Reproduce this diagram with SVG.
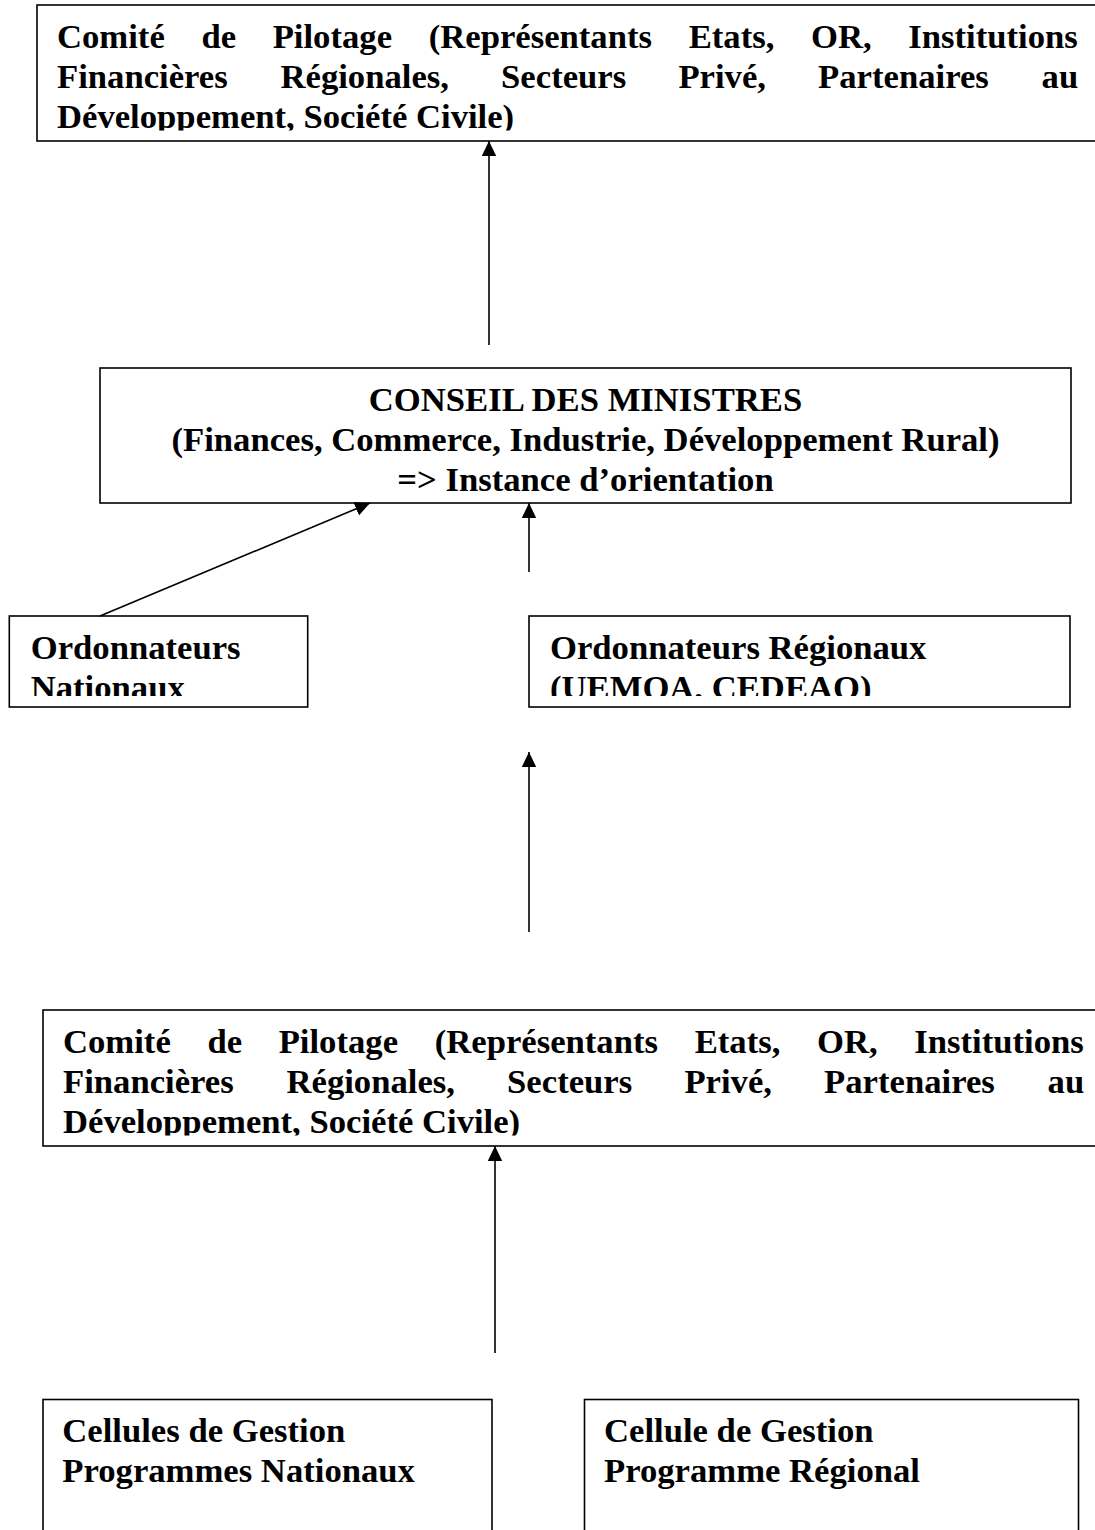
<svg xmlns="http://www.w3.org/2000/svg" width="1095" height="1530" viewBox="0 0 1095 1530">
  <style>
    .box { fill: #ffffff; stroke: #000000; stroke-width: 1.6; }
    .t { font-family: "Liberation Serif", "Times New Roman", serif; font-weight: bold; font-size: 34.67px; fill: #000000; }
    .c { text-anchor: middle; }
    .conn { stroke: #000000; stroke-width: 1.6; fill: none; marker-end: url(#arrow); }
  </style>
  <defs>
    <marker id="arrow" markerUnits="userSpaceOnUse" markerWidth="16" markerHeight="15" refX="15" refY="7.2" orient="auto" viewBox="0 0 16 15">
      <path d="M0,0 L15,7.2 L0,14.4 z" fill="#000000"/>
    </marker>
    <clipPath id="clip-comite1"><rect x="37" y="5" width="1070" height="125.5"/></clipPath>
    <clipPath id="clip-comite2"><rect x="43" y="1010" width="1070" height="125.5"/></clipPath>
    <clipPath id="clip-ordnat"><rect x="9" y="616" width="299" height="80"/></clipPath>
    <clipPath id="clip-ordreg"><rect x="529" y="616" width="541" height="80"/></clipPath>
  </defs>
  <rect x="0" y="0" width="1095" height="1530" fill="#ffffff"/>

  <g id="comite-pilotage-1">
    <rect class="box" x="37" y="5" width="1070" height="136"/>
    <text class="t" clip-path="url(#clip-comite1)">
      <tspan x="57" y="47.7">Comité</tspan><tspan x="201.4" y="47.7">de</tspan><tspan x="272.7" y="47.7">Pilotage</tspan><tspan x="428.7" y="47.7">(Représentants</tspan><tspan x="688.7" y="47.7">Etats,</tspan><tspan x="811" y="47.7">OR,</tspan><tspan x="908.3" y="47.7">Institutions</tspan>
      <tspan x="57" y="87.7">Financières</tspan><tspan x="280.5" y="87.7">Régionales,</tspan><tspan x="501.1" y="87.7">Secteurs</tspan><tspan x="678.4" y="87.7">Privé,</tspan><tspan x="818.1" y="87.7">Partenaires</tspan><tspan x="1041.6" y="87.7">au</tspan>
      <tspan x="57" y="127.7">Développement, Société Civile)</tspan>
    </text>
  </g>

  <g id="conseil-des-ministres">
    <rect class="box" x="100" y="368" width="971" height="135"/>
    <text class="t c" x="585.5" y="411">CONSEIL DES MINISTRES</text>
    <text class="t c" x="585.5" y="451">(Finances, Commerce, Industrie, Développement Rural)</text>
    <text class="t c" x="585.5" y="491">=&gt; Instance d’orientation</text>
  </g>

  <g id="ordonnateurs-nationaux">
    <rect class="box" x="9.3" y="616" width="298.4" height="91"/>
    <text class="t" clip-path="url(#clip-ordnat)">
      <tspan x="30.7" y="659">Ordonnateurs</tspan>
      <tspan x="30.7" y="699">Nationaux</tspan>
    </text>
  </g>

  <g id="ordonnateurs-regionaux">
    <rect class="box" x="529" y="616" width="541" height="91"/>
    <text class="t" clip-path="url(#clip-ordreg)">
      <tspan x="550" y="659">Ordonnateurs Régionaux</tspan>
      <tspan x="550" y="699">(UEMOA, CEDEAO)</tspan>
    </text>
  </g>

  <g id="comite-pilotage-2">
    <rect class="box" x="43" y="1010" width="1070" height="136"/>
    <text class="t" clip-path="url(#clip-comite2)">
      <tspan x="63" y="1052.7">Comité</tspan><tspan x="207.4" y="1052.7">de</tspan><tspan x="278.7" y="1052.7">Pilotage</tspan><tspan x="434.7" y="1052.7">(Représentants</tspan><tspan x="694.7" y="1052.7">Etats,</tspan><tspan x="817" y="1052.7">OR,</tspan><tspan x="914.3" y="1052.7">Institutions</tspan>
      <tspan x="63" y="1092.7">Financières</tspan><tspan x="286.5" y="1092.7">Régionales,</tspan><tspan x="507.1" y="1092.7">Secteurs</tspan><tspan x="684.4" y="1092.7">Privé,</tspan><tspan x="824.1" y="1092.7">Partenaires</tspan><tspan x="1047.6" y="1092.7">au</tspan>
      <tspan x="63" y="1132.7">Développement, Société Civile)</tspan>
    </text>
  </g>

  <g id="cellules-nationales">
    <rect class="box" x="43" y="1399.5" width="449" height="200"/>
    <text class="t">
      <tspan x="62.3" y="1442">Cellules de Gestion</tspan>
      <tspan x="62.3" y="1482">Programmes Nationaux</tspan>
    </text>
  </g>

  <g id="cellule-regionale">
    <rect class="box" x="584.5" y="1399.5" width="494" height="200"/>
    <text class="t">
      <tspan x="604" y="1442">Cellule de Gestion</tspan>
      <tspan x="604" y="1482">Programme Régional</tspan>
    </text>
  </g>

  <g id="connectors">
    <line class="conn" x1="489" y1="345" x2="489" y2="141"/>
    <line class="conn" x1="100" y1="616" x2="370" y2="503"/>
    <line class="conn" x1="529" y1="572" x2="529" y2="503"/>
    <line class="conn" x1="529" y1="932" x2="529" y2="752"/>
    <line class="conn" x1="495" y1="1353" x2="495" y2="1146"/>
  </g>
</svg>
